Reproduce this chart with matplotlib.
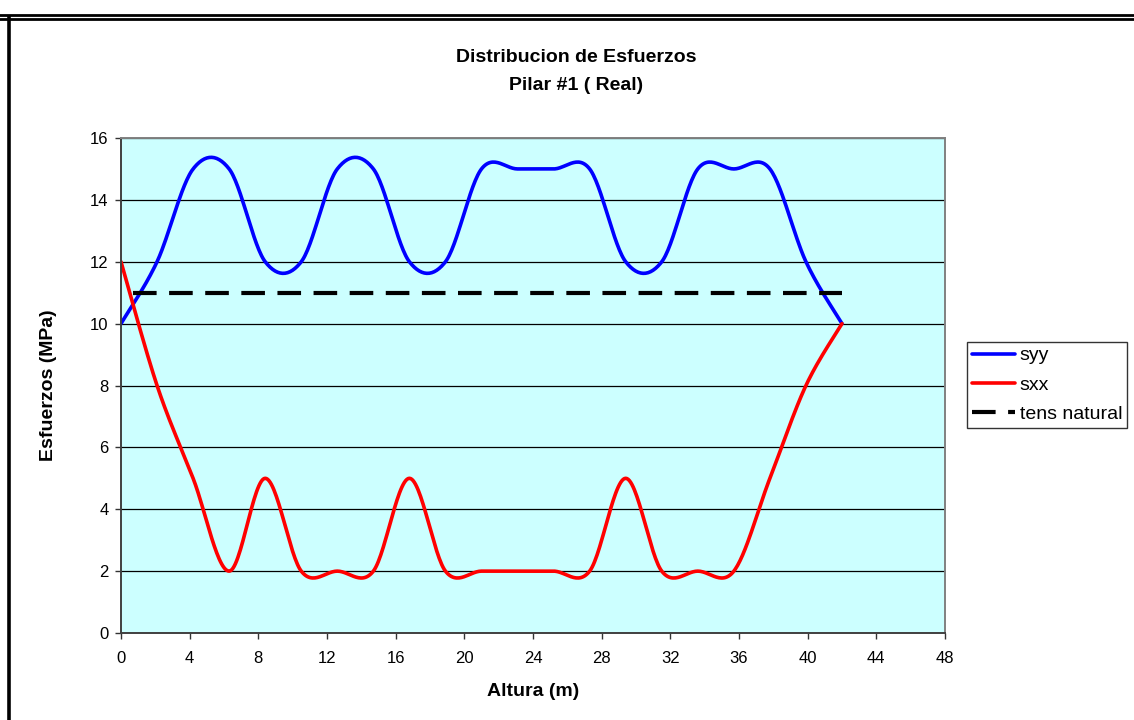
import numpy as np
import matplotlib
matplotlib.use("Agg")
import matplotlib.pyplot as plt
from matplotlib.lines import Line2D

plt.rcParams['font.family'] = ['Liberation Sans', 'DejaVu Sans']
plt.rcParams['lines.scale_dashes'] = False

# Data
altura = [0, 2.1, 4.2, 6.3, 8.4, 10.5, 12.6, 14.7, 16.8, 18.9, 21.0,
          23.1, 25.2, 27.3, 29.4, 31.5, 33.6, 35.7, 37.8, 39.9, 42.0]
syy = [10, 12, 15, 15, 12, 12, 15, 15, 12, 12, 15,
       15, 15, 15, 12, 12, 15, 15, 15, 12, 10]
sxx = [12, 8, 5, 2, 5, 2, 2, 2, 5, 2, 2,
       2, 2, 2, 5, 2, 2, 2, 5, 8, 10]
tens_x = [0.7, 42.0]
tens_natural = [11, 11]


# Excel-like smoothed line (Catmull-Rom / Bezier between the points)
def smooth(x, y, steps=30):
    p = np.column_stack([x, y]).astype(float)
    p = np.vstack([p[0], p, p[-1]])
    out = []
    t = np.linspace(0, 1, steps)[:, None]
    for i in range(1, len(p) - 2):
        p0, p1, p2, p3 = p[i - 1], p[i], p[i + 1], p[i + 2]
        c1 = p1 + (p2 - p0) / 6
        c2 = p2 - (p3 - p1) / 6
        seg = ((1 - t) ** 3) * p1 + 3 * ((1 - t) ** 2) * t * c1 + 3 * (1 - t) * t ** 2 * c2 + t ** 3 * p2
        out.append(seg if i == 1 else seg[1:])
    seg = np.vstack(out)
    return seg[:, 0], seg[:, 1]


fig = plt.figure(figsize=(11.34, 7.2), dpi=100)
ax = fig.add_axes([121 / 1134, 87 / 720, 824 / 1134, 495 / 720])
ax.set_facecolor('#CCFFFF')

xs, ys = smooth(altura, syy)
ax.plot(xs, ys, color='#0000FF', linewidth=2.6, label='syy', solid_capstyle='round')
xs, ys = smooth(altura, sxx)
ax.plot(xs, ys, color='#FF0000', linewidth=2.6, label='sxx', solid_capstyle='round')
ax.plot(tens_x, tens_natural, color='black', linewidth=3, dashes=(17, 9),
        label='tens natural')

ax.set_xlim(0, 48)
ax.set_ylim(0, 16)
ax.set_xticks(np.arange(0, 49, 4))
ax.set_yticks(np.arange(0, 17, 2))
ax.yaxis.grid(True, color='black', linewidth=0.9)
ax.set_axisbelow(True)
ax.tick_params(direction='out', length=4, width=1, labelsize=12, colors='#333333',
               labelcolor='black')
ax.tick_params(axis='x', pad=9)
ax.tick_params(axis='y', pad=5)

for side in ['left', 'bottom']:
    ax.spines[side].set_color('#404040')
    ax.spines[side].set_linewidth(1.4)
for side in ['top', 'right']:
    ax.spines[side].set_color('#808080')
    ax.spines[side].set_linewidth(1.4)

ax.set_xlabel('Altura (m)', fontsize=14, fontweight='bold', labelpad=12)
ax.set_ylabel('Esfuerzos (MPa)', fontsize=14, fontweight='bold', labelpad=24)

fig.text(576 / 1134, 1 - 58 / 720, 'Distribucion de Esfuerzos', ha='center', va='center',
         fontsize=14, fontweight='bold')
fig.text(576 / 1134, 1 - 86 / 720, 'Pilar #1 ( Real)', ha='center', va='center',
         fontsize=14, fontweight='bold')

leg = ax.legend(loc='upper left', bbox_to_anchor=(967 / 1134, 1 - 342 / 720),
                bbox_transform=fig.transFigure, fontsize=14, frameon=True,
                fancybox=False, edgecolor='black', borderpad=0.25, handlelength=2.2,
                handletextpad=0.25, labelspacing=0.6, borderaxespad=0)
leg.get_frame().set_linewidth(1)

# chart area border (cropped frame)
fig.add_artist(Line2D([0, 1], [1 - 15 / 720, 1 - 15 / 720], transform=fig.transFigure,
                      color='black', linewidth=2))
fig.add_artist(Line2D([0, 1], [1 - 18.5 / 720, 1 - 18.5 / 720], transform=fig.transFigure,
                      color='black', linewidth=2))
fig.add_artist(Line2D([8.5 / 1134, 8.5 / 1134], [0, 1 - 17 / 720], transform=fig.transFigure,
                      color='black', linewidth=2.6))

fig.savefig('out.png', dpi=100)
